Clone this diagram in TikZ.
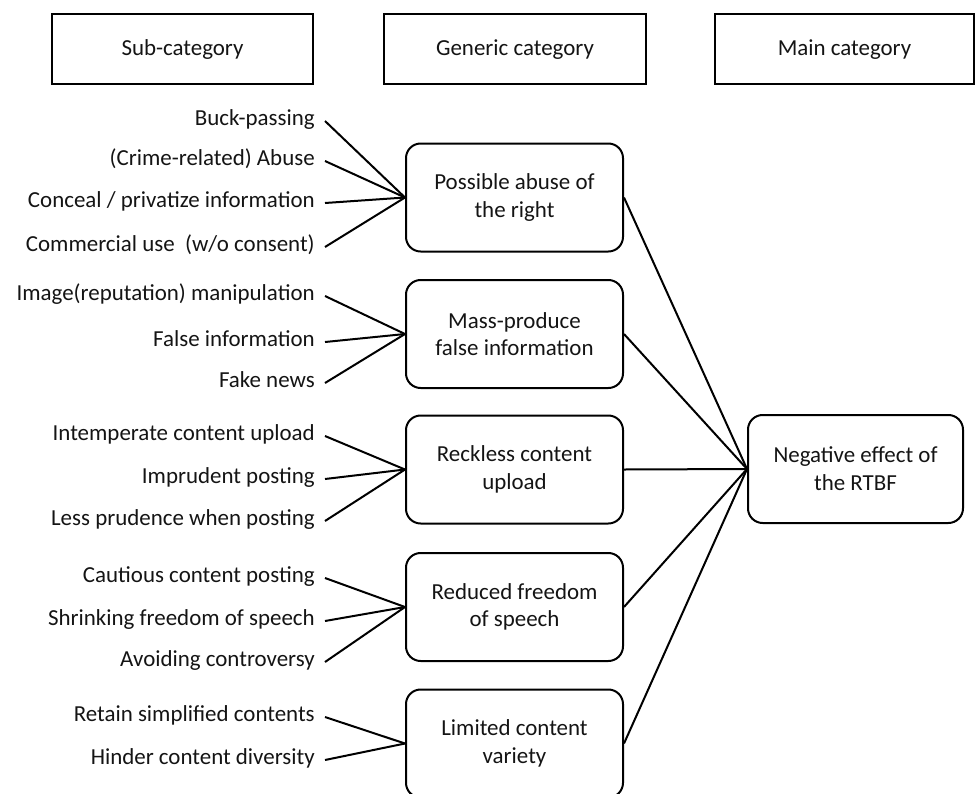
\documentclass[tikz,border=0pt]{standalone}
\usepackage{fontspec}
\setmainfont{Carlito}
\begin{document}
\begin{tikzpicture}[x=0.75pt,y=-0.75pt,
  font=\fontsize{17.2}{20.8}\selectfont,
  every node/.style={text=black!92},
  header/.style={draw=black, line width=1.5pt, minimum width=196pt, minimum height=52.5pt, inner sep=0pt, text height=0.92em, text depth=0em},
  gbox/.style={draw=black, line width=1.5pt, rounded corners=11pt, minimum width=162.75pt, minimum height=81pt, align=center, inner sep=0pt},
  sub/.style={anchor=east, inner xsep=7.5pt, inner ysep=0pt, text height=0.62em, text depth=0em},
  conn/.style={draw=black, line width=1.5pt}
]
\useasboundingbox (0,0) rectangle (975,793);

% headers
\node[header] (h1) at (182.5,49) {Sub-category};
\node[header] (h2) at (515,49) {Generic category};
\node[header, minimum width=194pt] (h3) at (844.5,49) {Main category};

% generic boxes
\node[gbox] (b1) at (514.5,197.5) {Possible abuse of\\the right};
\node[gbox] (b2) at (514.5,334) {Mass-produce\\false information};
\node[gbox] (b3) at (514.5,469.5) {Reckless content\\upload};
\node[gbox] (b4) at (514.5,607) {Reduced freedom\\of speech};
\node[gbox] (b5) at (514.5,743.5) {Limited content\\variety};

% main
\node[gbox, minimum width=161.25pt] (m) at (855.5,469) {Negative effect of\\the RTBF};

% sub-categories
\node[sub] (s11) at (325,121) {Buck-passing};
\node[sub] (s12) at (325,161) {(Crime-related) Abuse};
\node[sub] (s13) at (325,203) {Conceal / privatize information};
\node[sub] (s14) at (325,247) {Commercial use\ \ (w/o consent)};

\node[sub] (s21) at (325,296) {Image(reputation) manipulation};
\node[sub] (s22) at (325,342) {False information};
\node[sub] (s23) at (325,383) {Fake news};

\node[sub] (s31) at (325,436) {Intemperate content upload};
\node[sub] (s32) at (325,479) {Imprudent posting};
\node[sub] (s33) at (325,521) {Less prudence when posting};

\node[sub] (s41) at (325,578) {Cautious content posting};
\node[sub] (s42) at (325,621) {Shrinking freedom of speech};
\node[sub] (s43) at (325,662) {Avoiding controversy};

\node[sub] (s51) at (325,717) {Retain simplified contents};
\node[sub] (s52) at (325,760) {Hinder content diversity};

% connectors
\foreach \s in {s11,s12,s13,s14} \draw[conn] (\s.east) -- (b1.west);
\foreach \s in {s21,s22,s23} \draw[conn] (\s.east) -- (b2.west);
\foreach \s in {s31,s32,s33} \draw[conn] (\s.east) -- (b3.west);
\foreach \s in {s41,s42,s43} \draw[conn] (\s.east) -- (b4.west);
\foreach \s in {s51,s52} \draw[conn] (\s.east) -- (b5.west);
\foreach \b in {b1,b2,b3,b4,b5} \draw[conn] (\b.east) -- (m.west);
\end{tikzpicture}
\end{document}
